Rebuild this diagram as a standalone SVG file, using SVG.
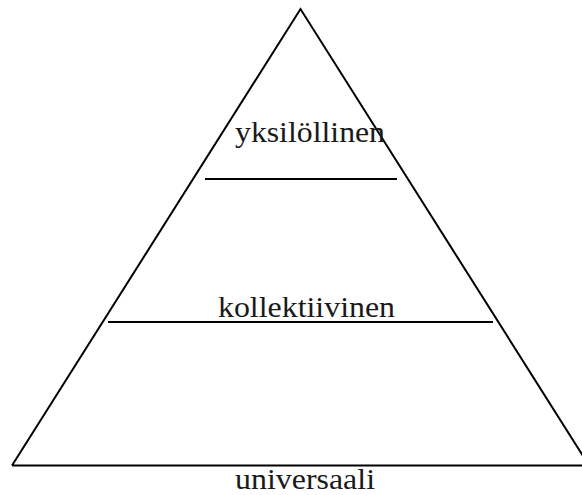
<svg xmlns="http://www.w3.org/2000/svg" width="582" height="495" viewBox="0 0 582 495">
<style>
.ln{stroke:#000;stroke-width:2;fill:none}
.t{font-family:"Liberation Serif","Times New Roman",serif;font-size:30px;fill:#1a1a1a}
</style>
<rect width="582" height="495" fill="#fff"/>
<g id="connectors">
<polyline class="ln" points="12,465.5 300.5,9 589,465.5 12,465.5"/>
<line class="ln" x1="205" y1="179" x2="397" y2="179"/>
<line class="ln" x1="108" y1="322" x2="493" y2="322"/>
</g>
<g id="yksilollinen"><text class="t" x="235" y="142" textLength="150" lengthAdjust="spacingAndGlyphs">yksilöllinen</text></g>
<g id="kollektiivinen"><text class="t" x="218" y="317" textLength="177" lengthAdjust="spacingAndGlyphs">kollektiivinen</text></g>
<g id="universaali"><text class="t" x="235" y="489" textLength="140" lengthAdjust="spacingAndGlyphs">universaali</text></g>
</svg>
